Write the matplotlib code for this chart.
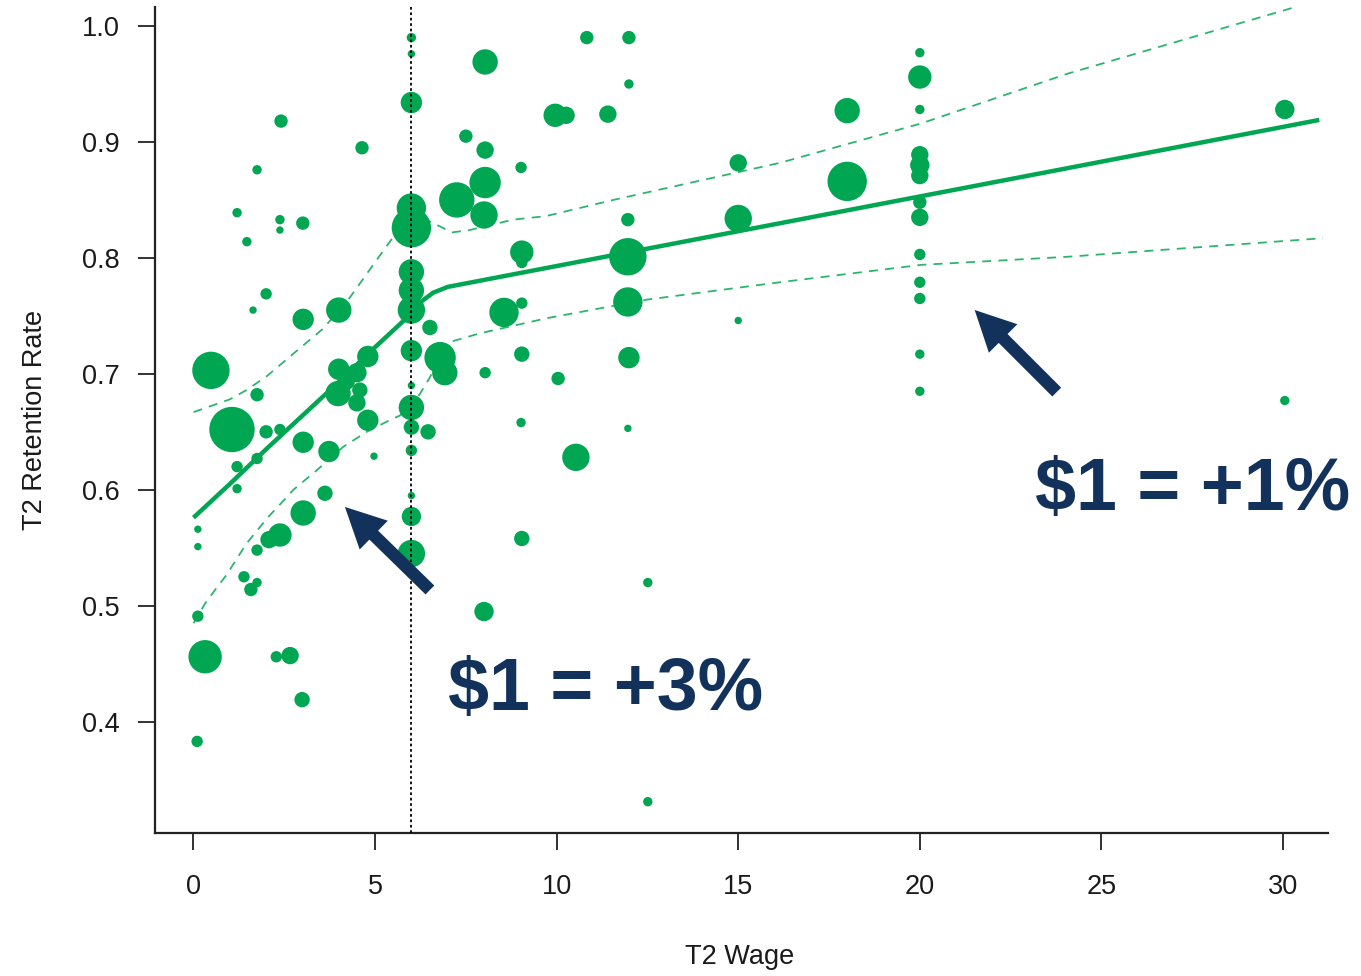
import matplotlib
matplotlib.use("Agg")
import matplotlib.pyplot as plt
import numpy as np

plt.rcParams['font.family'] = ['Liberation Sans', 'DejaVu Sans']

# ---------------- data ----------------
wage = [0.1, 0.12, 0.12, 0.12, 0.32, 0.48, 1.06, 1.2, 1.75, 1.47,
        2.41, 2.38, 2.38, 3.01, 2.0, 1.64, 3.02, 4.0, 4.64, 1.75,
        2.0, 2.38, 4.0, 4.8, 4.5, 3.98, 4.5, 4.8, 3.02, 3.73,
        4.97, 1.2, 1.75, 1.2, 3.62, 4.23, 4.58, 3.02, 2.38, 2.08,
        1.75, 1.39, 1.58, 1.75, 2.28, 2.66, 2.99,
        6, 6, 6, 6, 6, 6, 6, 6, 6, 6, 6, 6, 6.46, 6, 6, 6, 6,
        6.51, 7.25, 8.03, 8.0, 8.03, 9.02, 7.5, 9.04, 9.04, 8.55,
        9.04, 6.79, 6.92, 9.04, 8.03, 9.02, 9.04, 8.03, 10.83, 11.99,
        11.99, 9.96, 10.26, 11.41, 15.0, 11.96, 15.0, 11.96, 11.96, 15.0,
        11.99, 10.04, 11.96, 10.53, 12.51, 8.0, 12.51, 18.0, 18.0,
        20, 20, 20, 20, 20, 20, 20, 20, 20, 20, 20, 20, 20,
        30.05, 30.05]
retention = [0.383, 0.491, 0.551, 0.566, 0.456, 0.703, 0.652, 0.839, 0.876, 0.814,
             0.918, 0.833, 0.824, 0.830, 0.769, 0.755, 0.747, 0.755, 0.895, 0.682,
             0.650, 0.652, 0.704, 0.715, 0.701, 0.683, 0.675, 0.660, 0.641, 0.633,
             0.629, 0.620, 0.627, 0.601, 0.597, 0.693, 0.686, 0.580, 0.561, 0.557,
             0.548, 0.525, 0.514, 0.520, 0.456, 0.457, 0.419,
             0.990, 0.976, 0.934, 0.843, 0.826, 0.788, 0.772, 0.755, 0.720, 0.690,
             0.671, 0.654, 0.650, 0.634, 0.595, 0.577, 0.545,
             0.740, 0.850, 0.865, 0.837, 0.893, 0.878, 0.905, 0.805, 0.796, 0.753,
             0.761, 0.714, 0.701, 0.717, 0.701, 0.658, 0.558, 0.969, 0.990, 0.990,
             0.950, 0.923, 0.923, 0.924, 0.882, 0.833, 0.834, 0.801, 0.762, 0.746,
             0.714, 0.696, 0.653, 0.628, 0.520, 0.495, 0.331, 0.927, 0.866,
             0.977, 0.956, 0.928, 0.889, 0.880, 0.871, 0.848, 0.835, 0.803, 0.779,
             0.765, 0.717, 0.685,
             0.928, 0.677]
weight = [5, 5, 3, 3, 16, 18, 22, 4, 4, 4,
          6, 4, 3, 6, 5, 3, 10, 12, 6, 6,
          6, 5, 10, 10, 9, 12, 8, 10, 10, 10,
          3, 5, 5, 4, 7, 7, 7, 12, 11, 8,
          5, 5, 6, 4, 5, 8, 7,
          4, 3, 10, 14, 19, 12, 12, 13, 10, 3, 12, 7, 7, 5, 3, 9, 13,
          7, 17, 15, 13, 8, 5, 6, 11, 5, 14,
          5, 15, 12, 7, 5, 4, 7, 12, 6, 6,
          4, 11, 8, 8, 8, 6, 13, 18, 14, 3,
          10, 6, 3, 13, 4, 9, 4, 12, 19,
          4, 11, 4, 8, 9, 8, 6, 8, 5, 5, 5, 4, 4,
          9, 4]

fit_x = [0, 1, 2, 3, 4, 5, 6, 6.3, 6.6, 7.0, 10, 15, 20, 25, 31]
fit_y = [0.576, 0.605, 0.635, 0.664, 0.693, 0.723, 0.752, 0.763, 0.770, 0.775,
         0.793, 0.823, 0.853, 0.883, 0.919]

upper_x = [0, 1, 1.46, 2.02, 2.66, 3.57, 4.31, 5.13, 5.5, 6.2, 6.73, 7.12, 7.6,
           8.8, 9.7, 11.56, 16.15, 20.04, 24.08, 30.3, 31.2]
upper_y = [0.667, 0.678, 0.686, 0.698, 0.715, 0.739, 0.766, 0.802, 0.818, 0.836,
           0.828, 0.822, 0.824, 0.833, 0.836, 0.850, 0.882, 0.916, 0.959, 1.016, 1.024]

lower_x = [0, 0.32, 0.65, 0.92, 1.2, 1.47, 1.78, 2.1, 2.43, 2.75, 3.4, 4.12, 4.77,
           5.4, 5.68, 6.0, 6.24, 6.51, 6.8, 7.12, 7.89, 9.73, 12.48, 16.15, 20.04,
           24.08, 31.1]
lower_y = [0.485, 0.502, 0.516, 0.527, 0.541, 0.554, 0.566, 0.578, 0.589, 0.600,
           0.617, 0.637, 0.650, 0.660, 0.664, 0.672, 0.683, 0.697, 0.715, 0.728,
           0.735, 0.748, 0.764, 0.779, 0.794, 0.801, 0.817]

threshold_wage = 6
x_ticks = [0, 5, 10, 15, 20, 25, 30]
y_ticks = [0.4, 0.5, 0.6, 0.7, 0.8, 0.9, 1.0]
y_tick_labels = ["0.4", "0.5", "0.6", "0.7", "0.8", "0.9", "1.0"]

annot_text = ["$1 = +3%", "$1 = +1%"]
annot_pos = [(7.01, 0.410), (23.17, 0.5826)]
arrow_tail = [(6.51, 0.5136), (23.77, 0.6843)]
arrow_head = [(4.17, 0.5852), (21.51, 0.7551)]

# ---------------- plot ----------------
GREEN = '#00A651'
BAND = '#2DB56E'
NAVY = '#13325B'

W, H = 1361, 976
fig = plt.figure(figsize=(W / 100, H / 100), dpi=100)
ax = fig.add_axes([155 / W, 1 - 833 / H, (1328 - 155) / W, (833 - 7) / H])

ax.plot(upper_x, upper_y, color=BAND, lw=1.3, ls=(0, (5, 4)), zorder=2)
ax.plot(lower_x, lower_y, color=BAND, lw=1.3, ls=(0, (5, 4)), zorder=2)
ax.plot(fit_x, fit_y, color=GREEN, lw=3.2, solid_capstyle='butt', zorder=2)

sizes = [2.07 * (w + 0.7) ** 2 for w in weight]
ax.scatter(wage, retention, s=sizes, color=GREEN, edgecolors='none', zorder=3)

ax.axvline(threshold_wage, color='black', lw=1.3, ls=(0, (1.5, 1.5)), zorder=4)

ax.set_xlim(-1.06, 31.24)
ax.set_ylim(0.304, 1.0164)

for sp in ['top', 'right']:
    ax.spines[sp].set_visible(False)
for sp in ['left', 'bottom']:
    ax.spines[sp].set_linewidth(1.6)
    ax.spines[sp].set_color('#222222')

ax.set_xticks(x_ticks)
ax.set_xticklabels([str(t) for t in x_ticks])
ax.set_yticks(y_ticks)
ax.set_yticklabels(y_tick_labels)
ax.tick_params(axis='both', direction='out', length=12.5, width=1.3, color='#222222',
               labelsize=19.5, labelcolor='#1a1a1a')
ax.tick_params(axis='x', pad=17)
ax.tick_params(axis='y', pad=13)

fig.text(35 / W, 1 - 420 / H, "T2 Retention Rate", rotation=90, ha='center', va='center',
         fontsize=19.5, color='#1a1a1a')
fig.text(740 / W, 1 - 957 / H, "T2 Wage", ha='center', va='center',
         fontsize=19.5, color='#1a1a1a')

for txt, pos in zip(annot_text, annot_pos):
    ax.text(pos[0], pos[1], txt, fontsize=53, fontweight='bold', color=NAVY,
            ha='left', va='baseline', parse_math=False, clip_on=False, zorder=6)

for tail, head in zip(arrow_tail, arrow_head):
    ax.annotate('', xy=head, xytext=tail,
                arrowprops=dict(arrowstyle='simple,head_length=2.9,head_width=2.9,tail_width=0.9',
                                mutation_scale=10, color=NAVY, shrinkA=0, shrinkB=0, lw=0),
                zorder=6)

fig.savefig('out.png', dpi=100)
